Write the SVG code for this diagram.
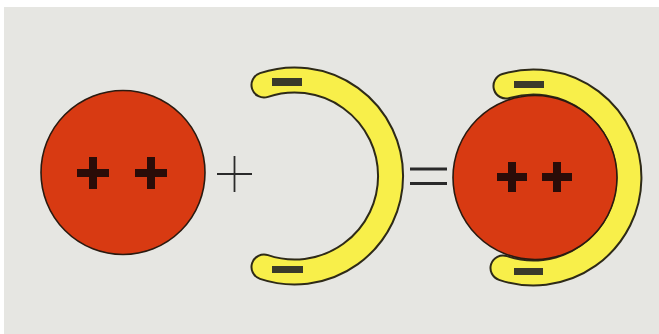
<svg xmlns="http://www.w3.org/2000/svg" width="659" height="334" viewBox="0 0 659 334">
  <style>
    .nucleus { fill: #d83a12; stroke: #2a1a10; stroke-width: 1.6; }
    .band-outline { fill: none; stroke: #2e2a18; stroke-width: 27; stroke-linecap: round; }
    .band-fill { fill: none; stroke: #f8ef4a; stroke-width: 23; stroke-linecap: round; }
    .pos { fill: #2a0c08; }
    .neg { fill: #3a3a2a; }
    .op { stroke: #2a2a2a; fill: none; }
  </style>
  <rect x="0" y="0" width="659" height="334" fill="#ffffff"/>
  <rect x="4" y="7" width="655" height="327" fill="#e6e6e2"/>

  <g id="nucleus">
    <circle class="nucleus" cx="123" cy="172.5" r="82"/>
    <rect class="pos" x="77" y="169" width="32" height="8"/>
    <rect class="pos" x="89" y="157" width="8" height="32"/>
    <rect class="pos" x="135" y="169" width="32" height="8"/>
    <rect class="pos" x="147" y="157" width="8" height="32"/>
  </g>

  <g id="plus-operator">
    <line class="op" x1="217" y1="174" x2="252" y2="174" stroke-width="1.8"/>
    <line class="op" x1="234.5" y1="156" x2="234.5" y2="192" stroke-width="1.8"/>
  </g>

  <g id="electron-shell">
    <path class="band-outline" d="M 264 85 A 96 96 0 1 1 264 267"/>
    <path class="band-fill" d="M 264 85 A 96 96 0 1 1 264 267"/>
    <rect class="neg" x="272" y="78" width="30" height="8"/>
    <rect class="neg" x="272" y="266" width="31" height="7"/>
  </g>

  <g id="equals-operator">
    <line class="op" x1="410" y1="169" x2="447" y2="169" stroke-width="3"/>
    <line class="op" x1="410" y1="183.5" x2="447" y2="183.5" stroke-width="3"/>
  </g>

  <g id="combined">
    <path class="band-outline" d="M 506 86 A 95.5 95.5 0 1 1 503 268"/>
    <path class="band-fill" d="M 506 86 A 95.5 95.5 0 1 1 503 268"/>
    <rect class="neg" x="514" y="81" width="30" height="7"/>
    <rect class="neg" x="514" y="268" width="29" height="7"/>
    <circle class="nucleus" cx="535" cy="177.5" r="82"/>
    <rect class="pos" x="497" y="173" width="30" height="8"/>
    <rect class="pos" x="508" y="162" width="8" height="30"/>
    <rect class="pos" x="542" y="173" width="30" height="8"/>
    <rect class="pos" x="553" y="162" width="8" height="30"/>
  </g>

  <g id="connectors"/>
</svg>
